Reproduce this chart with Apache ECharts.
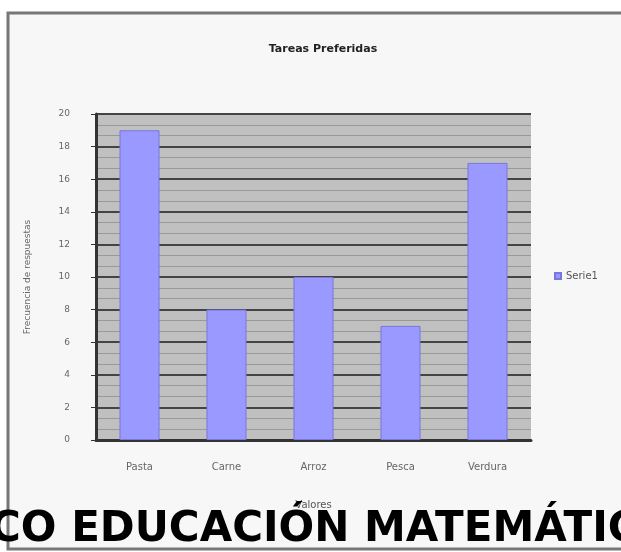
<!DOCTYPE html>
<html>
<head>
<meta charset="utf-8">
<script src="https://cdn.jsdelivr.net/npm/echarts@6/dist/echarts.min.js"></script>
<style>
  html, body { margin: 0; padding: 0; background: #ffffff; }
  #chart { width: 621px; height: 552px; }
</style>
</head>
<body>
<div id="chart"></div>
<script>
// datos
const categories = ['Pasta', 'Carne', 'Arroz', 'Pesca', 'Verdura']
const serie1 = [19, 8, 10, 7, 17]
const yTicks = { min: 0, max: 20, interval: 2 }

const chart = echarts.init(document.getElementById('chart'))

const option = {
  animation: false,
  backgroundColor: '#ffffff',
  title: {
    text: 'Tareas Preferidas',
    left: 318,
    top: 39,
    textAlign: 'center',
    textStyle: { fontFamily: 'DejaVu Sans', fontSize: 11, fontWeight: 'bold', color: '#222' }
  },
  legend: {
    orient: 'vertical',
    left: 549,
    top: 266,
    itemWidth: 6,
    itemHeight: 6,
    icon: 'rect',
    textStyle: { fontFamily: 'DejaVu Sans', fontSize: 10, color: '#555' },
    data: ['Serie1']
  },
  grid: { left: 96, right: 90, top: 114, bottom: 112 },
  xAxis: {
    type: 'category',
    data: categories,
    name: 'Valores',
    nameLocation: 'middle',
    nameGap: 60,
    nameTextStyle: { fontFamily: 'DejaVu Sans', fontSize: 10, color: '#555' },
    axisLine: { lineStyle: { color: '#333', width: 3 } },
    axisTick: { show: false },
    axisLabel: { fontFamily: 'DejaVu Sans', fontSize: 10, color: '#666', margin: 22 }
  },
  yAxis: {
    type: 'value',
    min: yTicks.min,
    max: yTicks.max,
    interval: yTicks.interval,
    name: 'Frecuencia de respuestas',
    nameLocation: 'middle',
    nameGap: 64,
    nameTextStyle: { fontFamily: 'DejaVu Sans', fontSize: 9, color: '#666' },
    axisLine: { show: true, lineStyle: { color: '#333', width: 3 } },
    axisTick: { show: true, length: 5, lineStyle: { color: '#333' } },
    axisLabel: { fontFamily: 'DejaVu Sans', fontSize: 9, color: '#666', margin: 26 },
    splitLine: { lineStyle: { color: '#444', width: 2 } },
    minorTick: { show: false, splitNumber: 3 },
    minorSplitLine: { show: true, lineStyle: { color: '#999', width: 1 } },
    splitArea: { show: true, areaStyle: { color: ['#c0c0c0', '#c0c0c0'] } }
  },
  series: [
    {
      name: 'Serie1',
      type: 'bar',
      barWidth: '46%',
      itemStyle: { color: '#9999ff', borderColor: '#7777dd', borderWidth: 1 },
      data: serie1
    }
  ],
  graphic: [
    {
      type: 'rect',
      shape: { x: 8, y: 13, width: 640, height: 536 },
      style: { fill: '#f7f7f7', stroke: '#777', lineWidth: 3 },
      z: -10
    },
    {
      type: 'text',
      left: -10,
      top: 509,
      style: {
        text: 'CO EDUCACIÓN MATEMÁTICO',
        font: 'bold 42px "DejaVu Sans"',
        fill: '#000'
      },
      z: 100
    }
  ]
}

chart.setOption(option)
</script>
</body>
</html>
